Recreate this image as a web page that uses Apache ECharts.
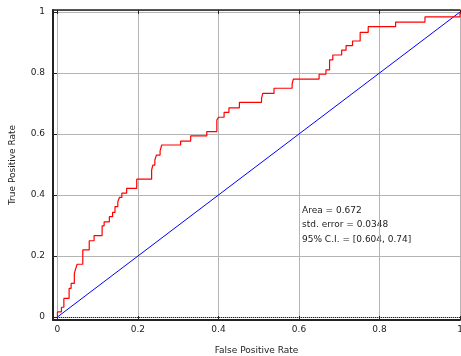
<!DOCTYPE html>
<html>
<head>
<meta charset="UTF-8">
<title>ROC</title>
<script src="https://cdn.jsdelivr.net/npm/echarts@6/dist/echarts.min.js"></script>
<style>
  html, body { margin: 0; padding: 0; background: #fff; }
  #main { width: 461px; height: 356px; }
</style>
</head>
<body>
<div id="main"></div>
<script type="text/javascript">
// ROC curve points (false positive rate, true positive rate), step after each fpr
var fpr = [0, 0, 0.010, 0.016, 0.029, 0.034, 0.042, 0.045, 0.049, 0.063, 0.079, 0.091,
  0.111, 0.116, 0.129, 0.137, 0.143, 0.150, 0.154, 0.160, 0.172, 0.197, 0.234, 0.237,
  0.242, 0.246, 0.255, 0.259, 0.306, 0.331, 0.371, 0.396, 0.400, 0.414, 0.426, 0.452,
  0.507, 0.510, 0.538, 0.583, 0.586, 0.650, 0.667, 0.676, 0.684, 0.706, 0.717, 0.733,
  0.752, 0.772, 0.840, 0.913, 1];
var tpr = [0, 0.017, 0.032, 0.061, 0.094, 0.110, 0.143, 0.157, 0.173, 0.220, 0.250, 0.267,
  0.299, 0.312, 0.329, 0.343, 0.362, 0.378, 0.392, 0.406, 0.422, 0.452, 0.482, 0.498,
  0.515, 0.531, 0.545, 0.564, 0.577, 0.594, 0.608, 0.646, 0.655, 0.671, 0.686, 0.704,
  0.717, 0.733, 0.750, 0.764, 0.780, 0.796, 0.810, 0.843, 0.859, 0.875, 0.890, 0.905,
  0.933, 0.952, 0.967, 0.984, 1];
var chance = [[0, 0], [1, 1]];
var stats = ['Area = 0.672', 'std. error = 0.0348', '95% C.I. = [0.604, 0.74]'];

var rocData = fpr.map(function (x, i) { return [x, tpr[i]]; });

var font = 'DejaVu Sans';
var myChart = echarts.init(document.getElementById('main'));

var xBase = {
  type: 'value',
  min: -0.011,
  max: 1,
  splitNumber: 5
};

myChart.setOption({
  animation: false,
  backgroundColor: '#fff',
  grid: { left: 53, right: 1, top: 10, bottom: 36, outerBoundsMode: 'none' },
  xAxis: [
    Object.assign({}, xBase, {
      position: 'bottom',
      name: 'False Positive Rate',
      nameLocation: 'middle',
      nameGap: 26,
      nameTextStyle: { fontFamily: font, fontSize: 9, color: '#222' },
      axisLine: { show: true, onZero: false, lineStyle: { color: '#222', width: 2 } },
      axisTick: { show: true, inside: true, length: 4, lineStyle: { color: '#222' } },
      axisLabel: { showMinLabel: false, margin: 5, fontFamily: font, fontSize: 9, color: '#222' },
      splitLine: { show: true, lineStyle: { color: '#b4b4b4', width: 1 } }
    }),
    Object.assign({}, xBase, {
      position: 'top',
      axisLine: { show: true, onZero: false, lineStyle: { color: '#222', width: 1.5 } },
      axisTick: { show: true, inside: true, length: 4, lineStyle: { color: '#222' } },
      axisLabel: { show: false },
      splitLine: { show: false }
    })
  ],
  yAxis: {
    type: 'value',
    min: -0.0098,
    max: 1.0066,
    splitNumber: 5,
    name: 'True Positive Rate',
    nameLocation: 'middle',
    nameGap: 36,
    nameTextStyle: { fontFamily: font, fontSize: 9, color: '#222' },
    axisLine: { show: true, onZero: false, lineStyle: { color: '#222', width: 2 } },
    axisTick: { show: true, inside: true, length: 4, lineStyle: { color: '#222' } },
    axisLabel: { showMinLabel: false, showMaxLabel: false, margin: 8, fontFamily: font, fontSize: 9, color: '#222' },
    splitLine: { show: true, lineStyle: { color: '#b4b4b4', width: 1 } }
  },
  graphic: [{
    type: 'group',
    left: 302,
    top: 206,
    children: stats.map(function (s, i) {
      return {
        type: 'text',
        x: 0,
        y: i * 14.5,
        style: { text: s, fontFamily: font, fontSize: 9, fill: '#222' }
      };
    })
  }],
  series: [
    {
      name: 'chance',
      type: 'line',
      xAxisIndex: 0,
      data: chance,
      symbol: 'none',
      lineStyle: { color: '#0000ff', width: 1 },
      markLine: {
        silent: true,
        symbol: 'none',
        label: { show: false },
        lineStyle: { color: '#222', type: 'dotted', width: 1 },
        data: [{ yAxis: 0 }]
      },
      z: 2
    },
    {
      name: 'ROC',
      type: 'line',
      xAxisIndex: 0,
      step: 'end',
      data: rocData,
      symbol: 'none',
      lineStyle: { color: '#ff0000', width: 1.2 },
      z: 3
    }
  ]
});
</script>
</body>
</html>
